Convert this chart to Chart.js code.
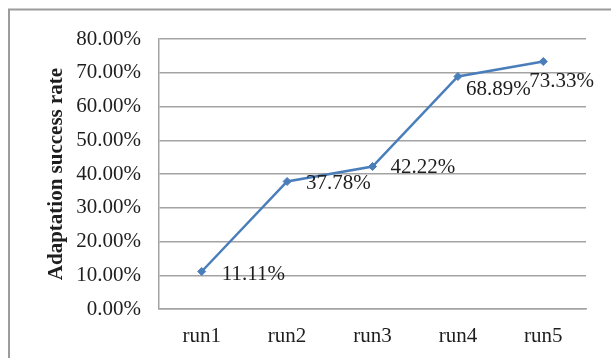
<!DOCTYPE html>
<html>
<head>
<meta charset="utf-8">
<script src="https://cdn.jsdelivr.net/npm/chart.js@4/dist/chart.umd.min.js"></script>
<style>
  html, body { margin: 0; padding: 0; background: #fff; }
  #wrap { width: 611px; height: 358px; }
</style>
</head>
<body>
<div id="wrap"><canvas id="c" width="611" height="358"></canvas></div>
<script>
// Adaptation success rate per run (percent)
const runs = ['run1', 'run2', 'run3', 'run4', 'run5'];
const successRate = [11.11, 37.78, 42.22, 68.89, 73.33];
const yTicks = [0, 10, 20, 30, 40, 50, 60, 70, 80];

const FONT = "'Liberation Serif', 'Times New Roman', serif";
const LINE = '#4a7ebb';
const GRID = '#a3a3a3';
const TEXT = '#1e1e1e';

// Where each value label sits relative to its marker (dx, dy in px)
const labelNudge = [[20, 3], [19, 1.5], [18, 1], [8, 13], [-14, 20]];

const frameAndLabels = {
  id: 'frameAndLabels',
  beforeDraw(chart) {
    const ctx = chart.ctx;
    ctx.save();
    ctx.strokeStyle = '#9c9c9c';
    ctx.lineWidth = 2;
    ctx.beginPath();
    ctx.moveTo(9, 400);
    ctx.lineTo(9, 9.5);
    ctx.lineTo(700, 9.5);
    ctx.stroke();
    ctx.restore();
  },
  afterDatasetsDraw(chart) {
    const ctx = chart.ctx;
    const meta = chart.getDatasetMeta(0);
    ctx.save();
    ctx.font = '21px ' + FONT;
    ctx.fillStyle = TEXT;
    ctx.textAlign = 'left';
    ctx.textBaseline = 'middle';
    meta.data.forEach((pt, i) => {
      const v = chart.data.datasets[0].data[i];
      const [dx, dy] = labelNudge[i];
      ctx.fillText(v.toFixed(2) + '%', pt.x + dx, pt.y + dy);
    });
    ctx.restore();
  }
};

new Chart(document.getElementById('c'), {
  type: 'line',
  data: {
    labels: runs,
    datasets: [{
      data: successRate,
      borderColor: LINE,
      backgroundColor: LINE,
      borderWidth: 2.5,
      tension: 0,
      pointStyle: 'rectRot',
      pointRadius: 4,
      pointBorderWidth: 1,
      pointBackgroundColor: LINE,
      pointBorderColor: LINE
    }]
  },
  options: {
    responsive: false,
    animation: false,
    devicePixelRatio: 1,
    layout: { padding: { top: 39, right: 25, left: 0, bottom: 0 } },
    plugins: {
      legend: { display: false },
      tooltip: { enabled: false },
      title: { display: false }
    },
    scales: {
      x: {
        offset: true,
        grid: { display: false, drawTicks: false },
        border: { display: true, color: GRID, width: 1.5 },
        ticks: { color: TEXT, font: { family: FONT, size: 21 }, padding: 15, maxRotation: 0 },
        afterFit(scale) { scale.height = 49; }
      },
      y: {
        min: 0,
        max: 80,
        afterBuildTicks(scale) { scale.ticks = yTicks.map(v => ({ value: v })); },
        grid: { color: GRID, lineWidth: 1.5, drawTicks: false },
        border: { display: true, color: GRID, width: 1.5 },
        ticks: {
          color: TEXT,
          font: { family: FONT, size: 21 },
          padding: 18,
          callback: v => v.toFixed(2) + '%'
        },
        title: {
          display: true,
          text: 'Adaptation success rate',
          color: TEXT,
          font: { family: FONT, size: 21, weight: 'bold' },
          padding: { top: 44, bottom: 0 }
        },
        afterFit(scale) { scale.width = 159; }
      }
    }
  },
  plugins: [frameAndLabels]
});
</script>
</body>
</html>
